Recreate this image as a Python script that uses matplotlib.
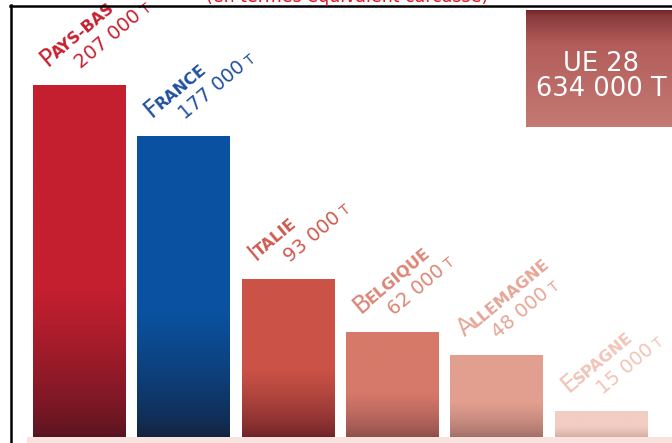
import numpy as np
import matplotlib
matplotlib.use('Agg')
import matplotlib.pyplot as plt
from matplotlib.colors import to_rgb
from matplotlib.font_manager import FontProperties
from matplotlib.textpath import TextToPath
from matplotlib.patches import Rectangle
from matplotlib.lines import Line2D

# Data (tonnes, équivalent carcasse)
countries = ['PAYS-BAS', 'FRANCE', 'ITALIE', 'BELGIQUE', 'ALLEMAGNE', 'ESPAGNE']
values = [207000, 177000, 93000, 62000, 48000, 15000]
value_labels = ['207 000', '177 000', '93 000', '62 000', '48 000', '15 000']
total_label = ['UE 28', '634 000 T']
subtitle = '(en termes équivalent carcasse)'

# Styles
bar_top = ['#c41f2f', '#0a52a1', '#cb5246', '#d7796a', '#e29f8f', '#f1cdc2']
bar_bottom = ['#561420', '#13223d', '#6c2228', '#8c4d4a', '#a06d67', '#d4aca4']
text_colors = ['#c8202f', '#2050a0', '#d05a4e', '#dc8575', '#e6a595', '#f0c4b6']

W, H = 672, 443
fig = plt.figure(figsize=(W / 100, H / 100), dpi=100)
fig.patch.set_facecolor('white')

# main axes, in pixel terms: x 27..653, y 5..437 (from top)
ax = fig.add_axes([27.4 / W, 6 / H, 626 / W, 432 / H])
ax.axis('off')

x = np.arange(len(values))
bw = 0.89
bars = ax.bar(x, values, width=bw, color=bar_top, linewidth=0, zorder=2)

# vertical gradient on the lower part of each bar
t = np.linspace(0, 1, 200)[:, None]
for b, top, bot in zip(bars, bar_top, bar_bottom):
    f = np.clip(t / 0.42, 0, 1) ** 0.7
    c0, c1 = np.array(to_rgb(bot)), np.array(to_rgb(top))
    img = (c0 + (c1 - c0) * f[..., None]) * np.ones((1, 2, 1))
    im = ax.imshow(img, origin='lower', aspect='auto', zorder=3,
                   extent=(b.get_x(), b.get_x() + b.get_width(), 0, b.get_height()))
    im.set_clip_path(b)

ax.set_xlim(-0.5, 5.5)
ax.set_ylim(0, 254000)

t2p = TextToPath()
ANG = 40
ca, sa = np.cos(np.radians(ANG)), np.sin(np.radians(ANG))


def draw_runs(xy, off_px, runs, color, gap):
    """Write several text pieces one after the other along a rotated baseline."""
    adv = 0.0
    for s, size, weight in runs:
        fp = FontProperties(family='DejaVu Sans', size=size, weight=weight)
        w, h, d = t2p.get_text_width_height_descent(s, fp, ismath=False)
        ax.annotate(s, xy=xy, xytext=(off_px[0] * 0.72 + adv * ca, off_px[1] * 0.72 + adv * sa),
                    textcoords='offset points', rotation=ANG, rotation_mode='anchor',
                    ha='left', va='baseline', fontproperties=fp, color=color,
                    annotation_clip=False, zorder=5)
        adv += w + gap


for i, b in enumerate(bars):
    xy = (b.get_x(), b.get_height())
    name = countries[i]
    draw_runs(xy, (14, 18), [(name[0], 17, 'normal'), (name[1:], 11.5, 'bold')],
              text_colors[i], -1.0)
    draw_runs(xy, (48, 16), [(value_labels[i], 14, 'normal'), ('T', 10, 'normal')],
              text_colors[i], 3.0)

# UE 28 box with gradient
bx = fig.add_axes([526 / W, (H - 127) / H, (W - 526) / W, 117 / H])
bx.axis('off')
tb = np.linspace(0, 1, 200)
stops = [(0.0, '#6e2228'), (0.06, '#8a3a3c'), (0.3, '#b35d5b'), (1.0, '#c47a73')]
sp = [s[0] for s in stops]
rgb = np.array([to_rgb(s[1]) for s in stops])
grad = np.stack([np.interp(tb, sp, rgb[:, k]) for k in range(3)], axis=-1)[:, None, :]
bx.imshow(grad, aspect='auto', extent=(0, 1, 0, 1), origin='upper')
bx.set_xlim(0, 1)
bx.set_ylim(0, 1)
fig.text(601 / W, 1 - 64 / H, total_label[0], color='white', fontsize=18.5,
         ha='center', va='center')
fig.text(601 / W, 1 - 89 / H, total_label[1], color='white', fontsize=18.5,
         ha='center', va='center')

# pale band along the bottom
fig.patches.append(Rectangle((27 / W, 0), 1 - 27 / W, 6 / H, transform=fig.transFigure,
                             facecolor='#f9e3df', edgecolor='none', zorder=1))

# black frame (top and left)
fig.lines.append(Line2D([10 / W, 1], [1 - 6 / H] * 2, transform=fig.transFigure,
                        color='black', linewidth=1.8))
fig.lines.append(Line2D([11 / W] * 2, [0, 1 - 5 / H], transform=fig.transFigure,
                        color='black', linewidth=1.8))

# subtitle, cut by the top edge as in the source graphic
fig.text(347 / W, 1 - 1.5 / H, subtitle, color='#e3101e', fontsize=12.5,
         ha='center', va='baseline')

fig.savefig('out.png', dpi=100, facecolor='white')
